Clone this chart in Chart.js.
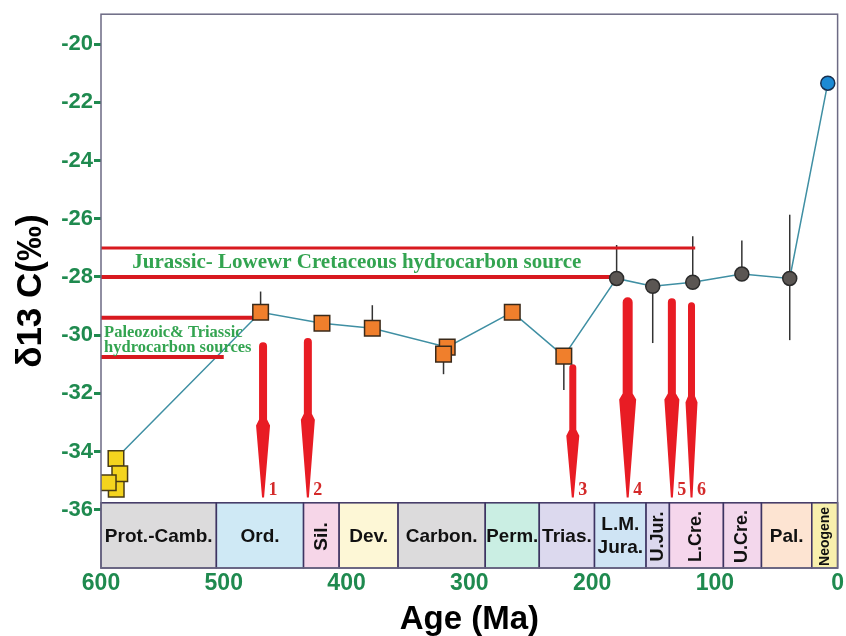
<!DOCTYPE html>
<html><head><meta charset="utf-8">
<script src="https://cdn.jsdelivr.net/npm/chart.js@4.4.0/dist/chart.umd.min.js"></script>
<style>html,body{margin:0;padding:0;background:#fff}</style>
</head><body>
<canvas id="c" width="846" height="636"></canvas>
<script>
// ---------- DATA ----------
const yTickValues = [-36, -34, -32, -30, -28, -26, -24, -22, -20];
const xTickValues = [600, 500, 400, 300, 200, 100, 0];

const protCambAges = [587.6, 587.8, 584.7, 594.1];
const protCambD13C = [-35.29, -34.24, -34.76, -35.07];

const paleoAges = [470, 420, 379, 318, 321, 265, 223];
const paleoD13C = [-29.21, -29.59, -29.76, -30.41, -30.65, -29.21, -30.72];
const paleoErrTop = [-28.5, null, -28.97, null, null, null, null];
const paleoErrBottom = [null, null, null, null, -31.34, null, -31.88];

const mesoAges = [180, 150.6, 118, 78, 39];
const mesoD13C = [-28.05, -28.32, -28.18, -27.9, -28.05];
const mesoErrTop = [-26.9, null, -26.6, -26.75, -25.86];
const mesoErrBottom = [null, -30.27, null, null, -30.17];

const neogeneAges = [8];
const neogeneD13C = [-21.34];

const trendAges = [587.8, 470, 420, 379, 318, 265, 223, 180, 150.6, 118, 78, 39, 8];
const trendD13C = [-34.24, -29.21, -29.59, -29.76, -30.41, -29.21, -30.72, -28.05, -28.32, -28.18, -27.9, -28.05, -21.34];

const periodNames = ['Prot.-Camb.', 'Ord.', 'Sil.', 'Dev.', 'Carbon.', 'Perm.', 'Trias.', 'L.M.\nJura.', 'U.Jur.', 'L.Cre.', 'U.Cre.', 'Pal.', 'Neogene'];
const periodStart = [600, 506, 435, 406, 358, 287, 243, 198, 156, 137, 93, 62, 21];
const periodEnd   = [506, 435, 406, 358, 287, 243, 198, 156, 137, 93, 62, 21, 0];
const periodBandTop = -35.76;

const jurSourceAges = [600, 116];
const jurSourceUpper = -27;
const jurSourceLowerAges = [600, 181];
const jurSourceLower = -28;
const palSourceUpperAges = [600, 476];
const palSourceUpper = -29.4;
const palSourceLowerAges = [600, 500];
const palSourceLower = -30.75;

const jurLabel = 'Jurassic- Lowewr Cretaceous hydrocarbon source';
const jurLabelAt = [391.6, -27.5];
const palLabel = ['Paleozoic& Triassic', 'hydrocarbon sources'];
const palLabelAge = 597.5;
const palLabelD13C = [-29.93, -30.43];

const arrowNumbers = ['1', '2', '3', '4', '5', '6'];
const arrowAges = [468, 431.5, 215.7, 171, 135, 119];
const arrowFrom = [-30.24, -30.1, -31.0, -28.7, -28.73, -28.87];
const arrowHeadAt = [-32.9, -32.7, -33.25, -32.0, -32.0, -32.1];
const arrowTip = -35.58;

// ---------- STYLES ----------
const periodColors = ['#dcdbdc', '#cfe9f5', '#f6d6e8', '#fdf7d6', '#dcdbdc', '#caeee3', '#dcd9ee', '#cfe4f4', '#dcd7ee', '#f5d6ec', '#f3d7ec', '#fde4d2', '#f8f0ad'];
const periodVertical = [false, false, true, false, false, false, false, false, true, true, true, false, true];
const periodFontSize = [19, 19, 19, 19, 19, 19, 19, 19, 18, 18, 18, 19, 14];
const arrowShaft = [8, 8, 7, 10, 8, 7];
const arrowHead = [14, 14, 13, 17, 15, 12];
const GREEN = '#1f8a4f';
const RED = '#d8191f';

const pts = (xs, ys) => xs.map((x, i) => ({x, y: ys[i]}));

const decor = {
  id: 'decor',
  beforeDatasetsDraw(chart) {
    const ctx = chart.ctx, xs = chart.scales.x, ys = chart.scales.y;
    ctx.save();
    // period boxes
    const top = ys.getPixelForValue(periodBandTop), bot = ys.getPixelForValue(ys.min);
    periodNames.forEach((n, i) => {
      const x0 = xs.getPixelForValue(periodStart[i]), x1 = xs.getPixelForValue(periodEnd[i]);
      ctx.fillStyle = periodColors[i];
      ctx.fillRect(x0, top, x1 - x0, bot - top);
      ctx.strokeStyle = '#3d3462'; ctx.lineWidth = 1.5;
      ctx.strokeRect(x0, top, x1 - x0, bot - top);
      ctx.save();
      ctx.fillStyle = '#111'; ctx.textAlign = 'center'; ctx.textBaseline = 'middle';
      ctx.translate((x0 + x1) / 2, (top + bot) / 2 + 1);
      let maxW = x1 - x0 - 2;
      if (periodVertical[i]) { ctx.rotate(-Math.PI / 2); maxW = bot - top - 4; }
      ctx.font = 'bold ' + periodFontSize[i] + 'px "Liberation Sans", Arial, sans-serif';
      const lines = n.split('\n');
      const lh = 23;
      lines.forEach((l, k) => ctx.fillText(l, 0, (k - (lines.length - 1) / 2) * lh, maxW));
      ctx.restore();
    });
    // arrows
    ctx.fillStyle = '#e81c24';
    arrowAges.forEach((age, i) => {
      const x = xs.getPixelForValue(age);
      const y0 = ys.getPixelForValue(arrowFrom[i]);
      const yh = ys.getPixelForValue(arrowHeadAt[i]);
      const y1 = ys.getPixelForValue(arrowTip);
      const w = arrowShaft[i] / 2, hw = arrowHead[i] / 2;
      ctx.beginPath();
      ctx.moveTo(x - w, y0 + w);
      ctx.arc(x, y0 + w, w, Math.PI, 0);
      ctx.lineTo(x + w, yh);
      ctx.lineTo(x + hw, yh + 6);
      ctx.lineTo(x + 1, y1);
      ctx.lineTo(x - 1, y1);
      ctx.lineTo(x - hw, yh + 6);
      ctx.lineTo(x - w, yh);
      ctx.closePath();
      ctx.fill();
    });
    ctx.fillStyle = '#d42a2a';
    ctx.font = 'bold 18px "Liberation Serif", "Times New Roman", serif';
    ctx.textAlign = 'center'; ctx.textBaseline = 'middle';
    arrowNumbers.forEach((t, i) => {
      const x = xs.getPixelForValue(arrowAges[i]);
      const y1 = ys.getPixelForValue(arrowTip);
      ctx.fillText(t, x + 10, y1 - 7);
    });
    // error bars
    ctx.strokeStyle = '#333'; ctx.lineWidth = 1.5;
    const errs = (ages, vals, tops, bots) => ages.forEach((a, i) => {
      const x = xs.getPixelForValue(a), y = ys.getPixelForValue(vals[i]);
      [tops[i], bots[i]].forEach(e => {
        if (e === null) return;
        ctx.beginPath(); ctx.moveTo(x, y); ctx.lineTo(x, ys.getPixelForValue(e)); ctx.stroke();
      });
    });
    errs(paleoAges, paleoD13C, paleoErrTop, paleoErrBottom);
    errs(mesoAges, mesoD13C, mesoErrTop, mesoErrBottom);
    ctx.restore();
  },
  afterDatasetsDraw(chart) {
    const ctx = chart.ctx, xs = chart.scales.x, ys = chart.scales.y;
    ctx.save();
    ctx.fillStyle = '#33a450';
    ctx.textBaseline = 'middle';
    ctx.textAlign = 'center';
    ctx.font = 'bold 21px "Liberation Serif", "Times New Roman", serif';
    ctx.fillText(jurLabel, xs.getPixelForValue(jurLabelAt[0]), ys.getPixelForValue(jurLabelAt[1]));
    ctx.textAlign = 'left';
    ctx.font = 'bold 16.5px "Liberation Serif", "Times New Roman", serif';
    palLabel.forEach((t, i) => ctx.fillText(t, xs.getPixelForValue(palLabelAge), ys.getPixelForValue(palLabelD13C[i])));
    ctx.restore();
  },
  afterDraw(chart) {
    const ctx = chart.ctx, a = chart.chartArea;
    ctx.save();
    ctx.strokeStyle = '#6c6a84'; ctx.lineWidth = 1.5;
    ctx.strokeRect(a.left, a.top, a.right - a.left, a.bottom - a.top);
    ctx.restore();
  }
};

new Chart(document.getElementById('c'), {
  type: 'scatter',
  data: {
    datasets: [
      { label: 'Prot.-Camb.', data: pts(protCambAges, protCambD13C), pointStyle: 'rect', pointRadius: 11,
        backgroundColor: '#f4d41e', borderColor: '#4a3c14', borderWidth: 1.5, order: 0 },
      { label: 'Paleozoic', data: pts(paleoAges, paleoD13C), pointStyle: 'rect', pointRadius: 11,
        backgroundColor: '#f07f2c', borderColor: '#3a2a1a', borderWidth: 1.5, order: 0 },
      { label: 'Mesozoic', data: pts(mesoAges, mesoD13C), pointStyle: 'circle', pointRadius: 7,
        backgroundColor: '#5b5653', borderColor: '#2b2b2b', borderWidth: 1.5, order: 0 },
      { label: 'Neogene', data: pts(neogeneAges, neogeneD13C), pointStyle: 'circle', pointRadius: 7,
        backgroundColor: '#1c8ad4', borderColor: '#183050', borderWidth: 1.5, order: 0 },
      { label: 'trend', data: pts(trendAges, trendD13C), showLine: true, pointRadius: 0,
        borderColor: '#3f8fa3', borderWidth: 1.5, order: 10 },
      { label: 'jurU', data: pts(jurSourceAges, jurSourceAges.map(() => jurSourceUpper)), showLine: true, pointRadius: 0,
        borderColor: RED, borderWidth: 3, order: 5 },
      { label: 'jurL', data: pts(jurSourceLowerAges, jurSourceLowerAges.map(() => jurSourceLower)), showLine: true, pointRadius: 0,
        borderColor: RED, borderWidth: 4, order: 5 },
      { label: 'palU', data: pts(palSourceUpperAges, palSourceUpperAges.map(() => palSourceUpper)), showLine: true, pointRadius: 0,
        borderColor: RED, borderWidth: 4, order: 5 },
      { label: 'palL', data: pts(palSourceLowerAges, palSourceLowerAges.map(() => palSourceLower)), showLine: true, pointRadius: 0,
        borderColor: RED, borderWidth: 4, order: 5 }
    ]
  },
  options: {
    responsive: false,
    animation: false,
    events: [],
    layout: { autoPadding: false, padding: { top: 13, right: 8, left: 0, bottom: 0 } },
    plugins: { legend: { display: false }, tooltip: { enabled: false } },
    scales: {
      x: {
        type: 'linear', reverse: true, min: 0, max: 600,
        afterFit: s => { s.height = 68; },
        afterBuildTicks: s => { s.ticks = xTickValues.map(v => ({value: v})); },
        grid: { display: false, drawTicks: false },
        border: { display: false },
        ticks: { color: GREEN, padding: 2, font: { family: '"Liberation Sans", Arial, sans-serif', size: 23, weight: 'bold' } },
        title: { display: true, text: 'Age (Ma)', color: '#000', padding: { top: 0, bottom: 0 },
          font: { family: '"Liberation Sans", Arial, sans-serif', size: 33, weight: 'bold', lineHeight: 1 } }
      },
      y: {
        type: 'linear', min: -38, max: -18.97,
        afterFit: s => { s.width = 101; },
        afterBuildTicks: s => { s.ticks = yTickValues.map(v => ({value: v})); },
        grid: { display: true, drawOnChartArea: false, drawTicks: true, tickLength: 7, tickColor: GREEN, tickWidth: 3, color: 'rgba(0,0,0,0)' },
        border: { display: false },
        ticks: { color: GREEN, padding: 1, font: { family: '"Liberation Sans", Arial, sans-serif', size: 22, weight: 'bold' } },
        title: { display: true, text: 'δ13 C(‰)', color: '#000', padding: { top: 10, bottom: 0 },
          font: { family: '"Liberation Sans", Arial, sans-serif', size: 35, weight: 'bold', lineHeight: 1.2 } }
      }
    }
  },
  plugins: [decor]
});
</script>
</body></html>
